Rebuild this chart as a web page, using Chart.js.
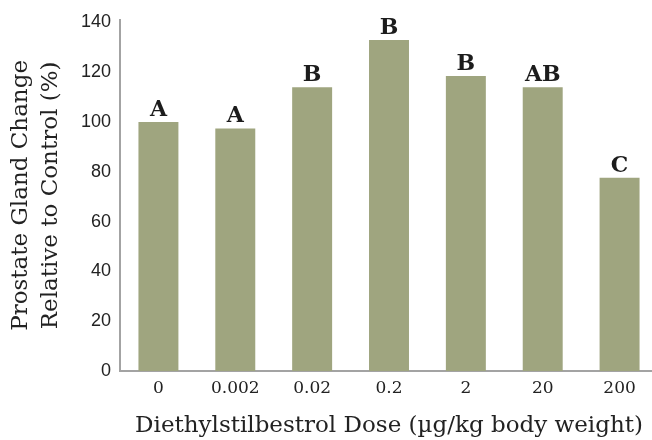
<!DOCTYPE html>
<html>
<head>
<meta charset="utf-8">
<script src="https://cdn.jsdelivr.net/npm/chart.js@4"></script>
<style>
  html, body { margin: 0; padding: 0; overflow: hidden; background: #fff; }
</style>
</head>
<body>
<canvas id="chart" width="658" height="440"></canvas>
<script>
// dose groups (µg/kg) and prostate change relative to control (%)
const doses = ['0', '0.002', '0.02', '0.2', '2', '20', '200'];
const change = [100, 97.4, 113.9, 132.9, 118.4, 113.9, 77.6];
const groups = ['A', 'A', 'B', 'B', 'B', 'AB', 'C'];
const yMin = 0;
const yMax = 141;
const yStep = 20;

const barColor = '#9fa57f';
const axisColor = '#a3a3a3';
const textColor = '#222222';

// letters above each bar
const groupLabels = {
  id: 'groupLabels',
  afterDatasetsDraw(chart) {
    const ctx = chart.ctx;
    const meta = chart.getDatasetMeta(0);
    ctx.save();
    ctx.font = 'bold 22px "DejaVu Serif"';
    ctx.fillStyle = '#1c1c1c';
    ctx.textAlign = 'center';
    ctx.textBaseline = 'alphabetic';
    meta.data.forEach((bar, i) => {
      ctx.fillText(groups[i], bar.x, bar.y - 6);
    });
    ctx.restore();
  }
};

new Chart(document.getElementById('chart'), {
  type: 'bar',
  data: {
    labels: doses,
    datasets: [{
      data: change,
      backgroundColor: barColor,
      borderWidth: 0,
      barPercentage: 0.52,
      categoryPercentage: 1
    }]
  },
  options: {
    responsive: false,
    animation: false,
    devicePixelRatio: 1,
    layout: { padding: { left: 0, right: 0, top: 0, bottom: 0 } },
    plugins: {
      legend: { display: false },
      tooltip: { enabled: false }
    },
    scales: {
      x: {
        grid: { display: false, drawTicks: false },
        border: { display: true, color: axisColor, width: 2 },
        ticks: {
          color: textColor,
          padding: 7,
          font: { family: 'DejaVu Serif', size: 17 }
        },
        title: {
          display: true,
          text: 'Diethylstilbestrol Dose (µg/kg body weight)',
          color: textColor,
          font: { family: 'DejaVu Serif', size: 23, lineHeight: 1.2 },
          padding: { top: 0, bottom: 0 }
        },
        afterFit(scale) { scale.height = 69; }
      },
      y: {
        min: yMin,
        max: yMax,
        grid: { display: false, drawTicks: false },
        border: { display: true, color: axisColor, width: 2 },
        ticks: {
          stepSize: yStep,
          includeBounds: false,
          color: textColor,
          padding: 9,
          font: { family: 'Liberation Sans', size: 18 }
        },
        title: {
          display: true,
          text: ['Prostate Gland Change', 'Relative to Control (%)'],
          color: textColor,
          font: { family: 'DejaVu Serif', size: 23, lineHeight: 1.3 },
          padding: { top: 6, bottom: 0 }
        },
        afterFit(scale) { scale.width = 120; }
      }
    }
  },
  plugins: [groupLabels]
});
</script>
</body>
</html>
